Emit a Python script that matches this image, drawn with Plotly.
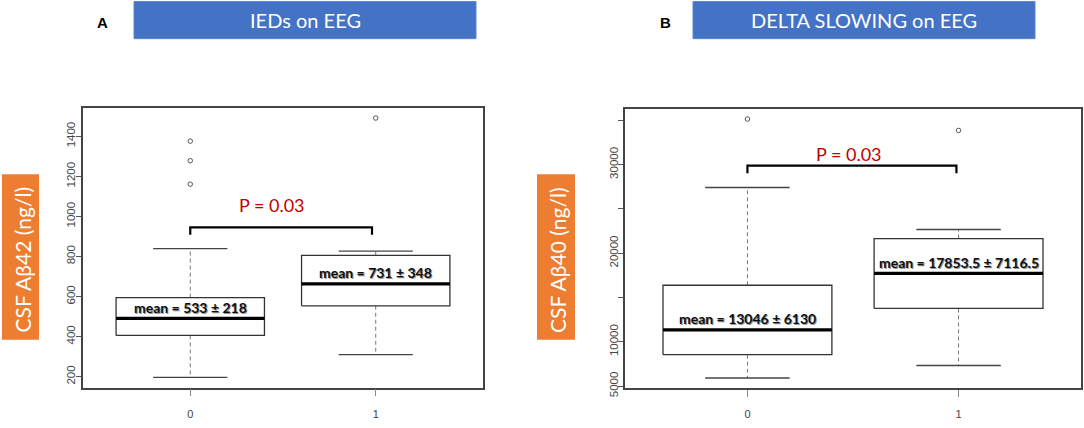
import plotly.graph_objects as go

# groups on the x axis
groups = ["0", "1"]

# panel A: CSF Abeta42 by IEDs on EEG (box stats)
ieds_lower = [197, 310]
ieds_q1 = [406, 554]
ieds_median = [491, 663]
ieds_q3 = [595, 806]
ieds_upper = [839, 827]
ieds_outliers = [[1161, 1278, 1376], [1491]]
ieds_means = ["mean = 533 ± 218", "mean = 731 ± 348"]

# panel B: CSF Abeta40 by delta slowing on EEG
delta_lower = [5921, 7331]
delta_q1 = [8552, 13769]
delta_median = [11360, 17721]
delta_q3 = [16389, 21650]
delta_upper = [27422, 22682]
delta_outliers = [[35148], [33860]]
delta_means = ["mean = 13046 ± 6130", "mean = 17853.5 ± 7116.5"]

p_text = "P = 0.03"

W, H = 1084, 428
BOX_HALF = 0.4
CAP_HALF = 0.2
TEXT_FONT = "Lato, 'Open Sans', sans-serif"
TICK_FONT = "'Liberation Sans', Arial, sans-serif"


def px_x(v):
    return v / W


def px_y(v):
    return 1 - v / H


fig = go.Figure()


def add_boxes(xa, ya, lower, q1, med, q3, upper, outliers):
    for i in range(len(groups)):
        # dashed whiskers
        fig.add_trace(go.Scatter(
            x=[i, i, None, i, i],
            y=[q3[i], upper[i], None, q1[i], lower[i]],
            mode="lines", line=dict(color="#777777", width=1, dash="4px,3px"),
            xaxis=xa, yaxis=ya, hoverinfo="skip"))
        # whisker caps
        fig.add_trace(go.Scatter(
            x=[i - CAP_HALF, i + CAP_HALF, None, i - CAP_HALF, i + CAP_HALF],
            y=[upper[i], upper[i], None, lower[i], lower[i]],
            mode="lines", line=dict(color="#444444", width=1.3),
            xaxis=xa, yaxis=ya, hoverinfo="skip"))
        # box
        x0, x1 = i - BOX_HALF, i + BOX_HALF
        fig.add_trace(go.Scatter(
            x=[x0, x1, x1, x0, x0],
            y=[q1[i], q1[i], q3[i], q3[i], q1[i]],
            mode="lines", fill="toself", fillcolor="white",
            line=dict(color="#333333", width=1.3),
            xaxis=xa, yaxis=ya, hoverinfo="skip"))
        # median
        fig.add_trace(go.Scatter(
            x=[x0, x1], y=[med[i], med[i]],
            mode="lines", line=dict(color="black", width=3.2),
            xaxis=xa, yaxis=ya, hoverinfo="skip"))
        # outliers
        fig.add_trace(go.Scatter(
            x=[i] * len(outliers[i]), y=outliers[i],
            mode="markers",
            marker=dict(symbol="circle-open", size=4.5, color="#555555", line=dict(width=1)),
            xaxis=xa, yaxis=ya, hoverinfo="skip"))


add_boxes("x", "y", ieds_lower, ieds_q1, ieds_median, ieds_q3, ieds_upper, ieds_outliers)
add_boxes("x2", "y2", delta_lower, delta_q1, delta_median, delta_q3, delta_upper, delta_outliers)


def y_range(lower, upper, outliers):
    vals = lower + upper + [v for o in outliers for v in o]
    lo, hi = min(vals), max(vals)
    pad = (hi - lo) * 0.04
    return [lo - pad, hi + pad]


annotations = []
shapes = []


def add_bracket(xa, ya, y_top, y_end, x_right, p_x, p_shift):
    fig.add_trace(go.Scatter(
        x=[0, 0, x_right, x_right], y=[y_end, y_top, y_top, y_end],
        mode="lines", line=dict(color="black", width=2.2),
        xaxis=xa, yaxis=ya, hoverinfo="skip"))
    annotations.append(dict(
        x=p_x, y=y_top, xref=xa, yref=ya, text=p_text, showarrow=False,
        yshift=p_shift, font=dict(family=TEXT_FONT, size=18, color="#C00000")))


add_bracket("x", "y", 945, 909, 0.98, 0.44, 22)
add_bracket("x2", "y2", 29897, 29040, 0.99, 0.48, 12)


def add_means(xa, ya, med, texts):
    for i, t in enumerate(texts):
        # soft shadow behind the label
        annotations.append(dict(
            x=i, y=med[i], xref=xa, yref=ya, text=t, showarrow=False,
            xshift=1, yshift=10,
            font=dict(family=TEXT_FONT, size=14, color="#999999", weight="bold")))
        annotations.append(dict(
            x=i, y=med[i], xref=xa, yref=ya, text=t, showarrow=False,
            yshift=11,
            font=dict(family=TEXT_FONT, size=14, color="#0d0d0d", weight="bold")))


add_means("x", "y", ieds_median, ieds_means)
add_means("x2", "y2", delta_median, delta_means)

# panel headers
headers = [
    ("A", 102, "IEDs on EEG", 134, 476),
    ("B", 665, "DELTA SLOWING on EEG", 693, 1035),
]
for letter, lx, title, bx0, bx1 in headers:
    shapes.append(dict(
        type="rect", xref="paper", yref="paper", layer="below",
        x0=px_x(bx0), x1=px_x(bx1), y0=px_y(39.5), y1=px_y(1.5),
        fillcolor="#4472C4", line=dict(color="#5b86d0", width=1)))
    annotations.append(dict(
        x=px_x((bx0 + bx1) / 2), y=px_y(20.5), xref="paper", yref="paper",
        xanchor="center", yanchor="middle",
        text=title, showarrow=False,
        font=dict(family=TEXT_FONT, size=20, color="white")))
    annotations.append(dict(
        x=px_x(lx), y=px_y(23), xref="paper", yref="paper",
        xanchor="center", yanchor="middle",
        text="<b>" + letter + "</b>", showarrow=False,
        font=dict(family="'Liberation Sans', Arial, sans-serif", size=15, color="black")))

# orange y-axis labels
ylabels = [("CSF Aβ42 (ng/l)", 2, 39), ("CSF Aβ40 (ng/l)", 537, 575)]
for text, bx0, bx1 in ylabels:
    shapes.append(dict(
        type="rect", xref="paper", yref="paper", layer="below",
        x0=px_x(bx0), x1=px_x(bx1), y0=px_y(347), y1=px_y(178),
        fillcolor="#ED7D31", line=dict(width=0)))
    annotations.append(dict(
        x=px_x((bx0 + bx1) / 2 + 1.5), y=px_y(266), xref="paper", yref="paper",
        xanchor="center", yanchor="middle",
        text=text, showarrow=False, textangle=-90,
        font=dict(family=TEXT_FONT, size=21, color="white")))

xaxis_style = dict(
    range=[-0.58, 1.58], tickvals=[0, 1], ticktext=groups,
    showline=True, mirror=True, linecolor="#444444", linewidth=1.5,
    ticks="outside", ticklen=7, tickcolor="#888888", tickwidth=1,
    ticklabelstandoff=8,
    showgrid=False, zeroline=False,
    tickfont=dict(family=TICK_FONT, size=11, color="#444444"),
)
yaxis_style = dict(
    showline=True, mirror=True, linecolor="#444444", linewidth=1.5,
    ticks="outside", ticklen=5, tickcolor="#555555", tickwidth=1,
    showgrid=False, zeroline=False, tickangle=-90,
    ticklabelstandoff=-4,
    tickfont=dict(family=TICK_FONT, size=11.5, color="#444444"),
)

ieds_ticks = list(range(200, 1401, 200))
delta_ticks = list(range(5000, 35001, 5000))
delta_ticktext = ["5000", "10000", "", "20000", "", "30000", ""]

fig.update_layout(
    width=W, height=H,
    margin=dict(l=0, r=0, t=0, b=0),
    paper_bgcolor="white", plot_bgcolor="white",
    showlegend=False,
    xaxis=dict(domain=[px_x(82.7), px_x(483.3)], anchor="y", **xaxis_style),
    yaxis=dict(domain=[px_y(396), px_y(110)], anchor="x",
               range=y_range(ieds_lower, ieds_upper, ieds_outliers),
               tickvals=ieds_ticks, **yaxis_style),
    xaxis2=dict(domain=[px_x(625), px_x(1081)], anchor="y2", **xaxis_style),
    yaxis2=dict(domain=[px_y(396.7), px_y(111)], anchor="x2",
                range=y_range(delta_lower, delta_upper, delta_outliers),
                tickvals=delta_ticks, ticktext=delta_ticktext, **yaxis_style),
    shapes=shapes,
    annotations=annotations,
)

# drop the browser's default page margin so the figure sits at the corner
fig.write_html("out.html", config={"displayModeBar": False},
               post_script="document.body.style.margin='0px';")
